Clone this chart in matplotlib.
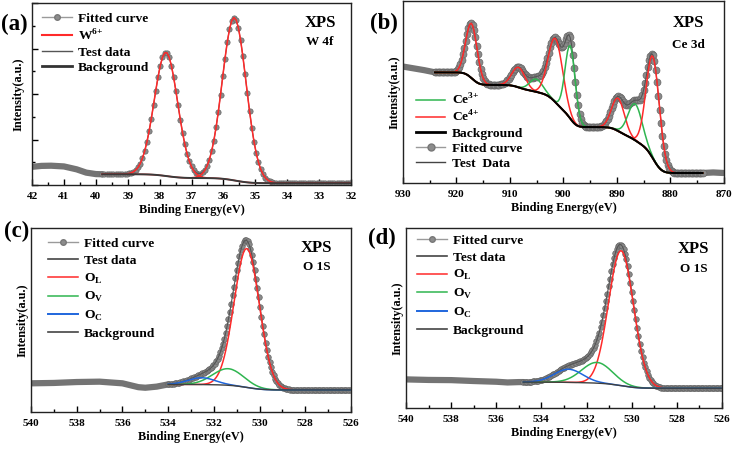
import numpy as np
import matplotlib.pyplot as plt
from matplotlib.lines import Line2D
from matplotlib.ticker import MultipleLocator

plt.rcParams["font.family"] = "Liberation Serif"
plt.rcParams["font.weight"] = "bold"
plt.rcParams["mathtext.fontset"] = "custom"
plt.rcParams["mathtext.rm"] = "Liberation Serif:bold"
plt.rcParams["mathtext.bf"] = "Liberation Serif:bold"

RED = "#ff2a2a"
GREEN = "#2fb550"
BLUE = "#1f66dd"

# ---- (a) W 4f: peak centre (eV), height, FWHM (eV); intensity in arbitrary units
a_centers = [37.80, 35.66]
a_heights = [68.0, 89.5]
a_fwhm = [0.86, 0.88]
a_bg_ends = [5.9, 1.0]          # background at high-BE / low-BE end of the fit window
a_fit_window = [39.8, 32.0]
a_left_x = [42.0, 41.7, 41.4, 41.0, 40.6, 40.3, 40.0, 39.8]
a_left_y = [10.0, 10.5, 10.6, 10.2, 8.6, 6.8, 6.0, 5.9]

# ---- (b) Ce 3d
b_centers = [917.2, 908.4, 905.1, 901.5, 898.75, 889.8, 886.6, 883.3]
b_heights = [30.0, 11.0, 7.0, 35.0, 40.0, 18.0, 20.0, 56.0]
b_fwhm = [2.5, 2.9, 2.9, 3.2, 2.2, 2.8, 3.1, 2.9]
b_kind = ["Ce4+", "Ce4+", "Ce3+", "Ce4+", "Ce3+", "Ce4+", "Ce3+", "Ce4+"]
b_bg_ends = [60.8, 5.5]
b_fit_window = [924.0, 874.0]
b_left_x = [930.0, 928.0, 926.0, 924.0]
b_left_y = [64.0, 63.0, 62.0, 60.8]
b_right_x = [874.0, 872.0, 870.0]
b_right_y = [5.5, 5.8, 5.5]

# ---- (c) O 1s
c_centers = [530.56, 531.37, 532.53]   # O_L, O_V, O_C
c_heights = [75.5, 9.0, 3.7]
c_fwhm = [1.30, 1.60, 1.40]
c_bg_ends = [15.0, 12.0]
c_fit_window = [534.0, 526.0]
c_left_x = [540.0, 539.0, 538.0, 537.0, 536.0, 535.3, 535.0, 534.5, 534.0]
c_left_y = [15.6, 15.8, 16.3, 16.5, 15.6, 13.5, 13.2, 13.8, 15.0]

# ---- (d) O 1s
d_centers = [530.47, 531.54, 532.80]
d_heights = [75.0, 11.5, 7.3]
d_fwhm = [1.30, 1.60, 1.50]
d_bg_ends = [14.4, 11.0]
d_fit_window = [534.8, 526.0]
d_left_x = [540.0, 539.0, 538.0, 537.0, 536.0, 535.5, 535.0, 534.8]
d_left_y = [15.9, 15.6, 15.5, 15.0, 14.6, 14.2, 14.4, 14.4]


def gauss(x, c, h, w):
    return h * np.exp(-4 * np.log(2) * (x - c) ** 2 / w ** 2)


def draw_panel(ax, window, centers, heights, fwhm, colors, bg_ends, left, right,
               step, ms, bg_color, bg_lw):
    e = np.arange(window[0], window[1] - step / 2, -step)
    comps = [gauss(e, c, h, w) for c, h, w in zip(centers, heights, fwhm)]
    total = np.sum(comps, axis=0)
    # Shirley-type background
    cum = np.cumsum(total[::-1])[::-1]
    bg = bg_ends[1] + (bg_ends[0] - bg_ends[1]) * cum / cum[0]
    fit = bg + total

    for xs, ys in (left, right):
        if xs:
            ax.plot(xs, ys, color="#747474", lw=4.5, solid_capstyle="round", zorder=2)
    ax.plot(e, fit, "o", ms=ms, mfc="#8a8a8a", mec="#666666", mew=0.5, zorder=2)
    ax.plot(e, fit, color="#555555", lw=0.8, zorder=3)
    for comp, col in zip(comps, colors):
        ax.plot(e, bg + comp, color=col, lw=1.1, zorder=4)
    ax.plot(e, bg, color=bg_color, lw=bg_lw, zorder=5)


def style_axes(ax, xlim, major, minor, yticks=False):
    ax.set_xlim(*xlim)
    ax.set_ylim(0, 100)
    ax.xaxis.set_major_locator(MultipleLocator(major))
    ax.xaxis.set_minor_locator(MultipleLocator(minor))
    ax.tick_params(axis="x", which="major", direction="in", length=4, width=1,
                   labelsize=8, pad=5)
    ax.tick_params(axis="x", which="minor", direction="in", length=2.5, width=1)
    if yticks:
        ax.yaxis.set_major_locator(MultipleLocator(25))
        ax.yaxis.set_minor_locator(MultipleLocator(12.5))
        ax.tick_params(axis="y", which="major", direction="in", length=4, width=1,
                       labelleft=False)
        ax.tick_params(axis="y", which="minor", direction="in", length=2.5, width=1)
    else:
        ax.set_yticks([])
    for lab in ax.get_xticklabels():
        lab.set_fontweight("bold")
    for sp in ax.spines.values():
        sp.set_linewidth(1.0)
        sp.set_color("#222222")
    ax.set_xlabel("Binding Energy(eV)", fontsize=8.8, fontweight="bold", labelpad=2)
    ax.set_ylabel("Intensity(a.u.)", fontsize=8.8, fontweight="bold", labelpad=2)


def h_fit(ms=4):
    return Line2D([], [], color="#9a9a9a", lw=1, marker="o", ms=ms,
                  mfc="#8c8c8c", mec="#777777")


def h_line(col, lw=1.1):
    return Line2D([], [], color=col, lw=lw)


def add_legend(ax, handles, labels, anchor, spacing):
    ax.legend(handles, labels, loc="upper left", bbox_to_anchor=anchor,
              frameon=False, fontsize=9.7, handlelength=2.2, handletextpad=0.45,
              labelspacing=spacing, borderpad=0, borderaxespad=0)


fig = plt.figure(figsize=(7.34, 4.5), dpi=100)
ax_a = fig.add_axes([0.0436, 0.5889, 0.4346, 0.4044])
ax_b = fig.add_axes([0.5490, 0.5933, 0.4373, 0.4044])
ax_c = fig.add_axes([0.0422, 0.0844, 0.4360, 0.4089])
ax_d = fig.add_axes([0.5531, 0.0933, 0.4305, 0.4000])

# (a)
draw_panel(ax_a, a_fit_window, a_centers, a_heights, a_fwhm, [RED, RED], a_bg_ends,
           (a_left_x, a_left_y), ([], []), 0.07, 3.8, "#3a3a3a", 1.4)
style_axes(ax_a, (42, 32), 1, 0.5, yticks=True)
add_legend(ax_a, [h_fit(), h_line(RED, 1.5), h_line("#555555", 1.0), h_line("#333333", 2.0)],
           ["Fitted curve", r"W$^{\rm 6{+}}$", "Test data", "Background"],
           (0.031, 0.948), 0.22)
ax_a.text(0.905, 0.888, "XPS", transform=ax_a.transAxes, ha="center", va="center",
          fontsize=12, fontweight="bold")
ax_a.text(0.903, 0.787, "W 4f", transform=ax_a.transAxes, ha="center", va="center",
          fontsize=9.5, fontweight="bold")

# (b)
b_colors = [RED if k == "Ce4+" else GREEN for k in b_kind]
draw_panel(ax_b, b_fit_window, b_centers, b_heights, b_fwhm, b_colors, b_bg_ends,
           (b_left_x, b_left_y), (b_right_x, b_right_y), 0.25, 5.0, "#000000", 1.5)
style_axes(ax_b, (930, 870), 10, 5)
add_legend(ax_b, [h_line(GREEN), h_line(RED), h_line("#000000", 2.0), h_fit(5),
                  h_line("#444444", 1.0)],
           [r"Ce$^{\rm 3{+}}$", r"Ce$^{\rm 4{+}}$", "Background", "Fitted curve", "Test  Data"],
           (0.04, 0.50), 0.18)
ax_b.text(0.89, 0.877, "XPS", transform=ax_b.transAxes, ha="center", va="center",
          fontsize=12, fontweight="bold")
ax_b.text(0.89, 0.758, "Ce 3d", transform=ax_b.transAxes, ha="center", va="center",
          fontsize=9.5, fontweight="bold")

# (c) and (d)
for ax, win, cen, hei, fw, bge, lx, ly, anchor, xy in (
        (ax_c, c_fit_window, c_centers, c_heights, c_fwhm, c_bg_ends, c_left_x, c_left_y,
         (0.053, 0.948), (0.893, 0.893, 0.79)),
        (ax_d, d_fit_window, d_centers, d_heights, d_fwhm, d_bg_ends, d_left_x, d_left_y,
         (0.035, 0.965), (0.91, 0.886, 0.771))):
    draw_panel(ax, win, cen, hei, fw, [RED, GREEN, BLUE], bge, (lx, ly), ([], []),
               0.06, 4.0, "#404040", 1.0)
    style_axes(ax, (540, 526), 2, 1)
    add_legend(ax, [h_fit(), h_line("#444444", 1.2), h_line(RED), h_line(GREEN),
                    h_line(BLUE, 1.4), h_line("#444444", 1.2)],
               ["Fitted curve", "Test data", r"O$_{\rm L}$", r"O$_{\rm V}$",
                r"O$_{\rm C}$", "Background"], anchor, 0.34)
    ax.text(xy[0], xy[1], "XPS", transform=ax.transAxes, ha="center", va="center",
            fontsize=12, fontweight="bold")
    ax.text(xy[0], xy[2], "O 1S", transform=ax.transAxes, ha="center", va="center",
            fontsize=9.5, fontweight="bold")

for lab, (px, py) in zip(["(a)", "(b)", "(c)", "(d)"],
                         [(14.5, 24), (384, 23.5), (17, 231), (382, 238)]):
    fig.text(px / 734, 1 - py / 450, lab, ha="center", va="center",
             fontsize=16.5, fontweight="bold")

fig.savefig("out.png", dpi=100)
